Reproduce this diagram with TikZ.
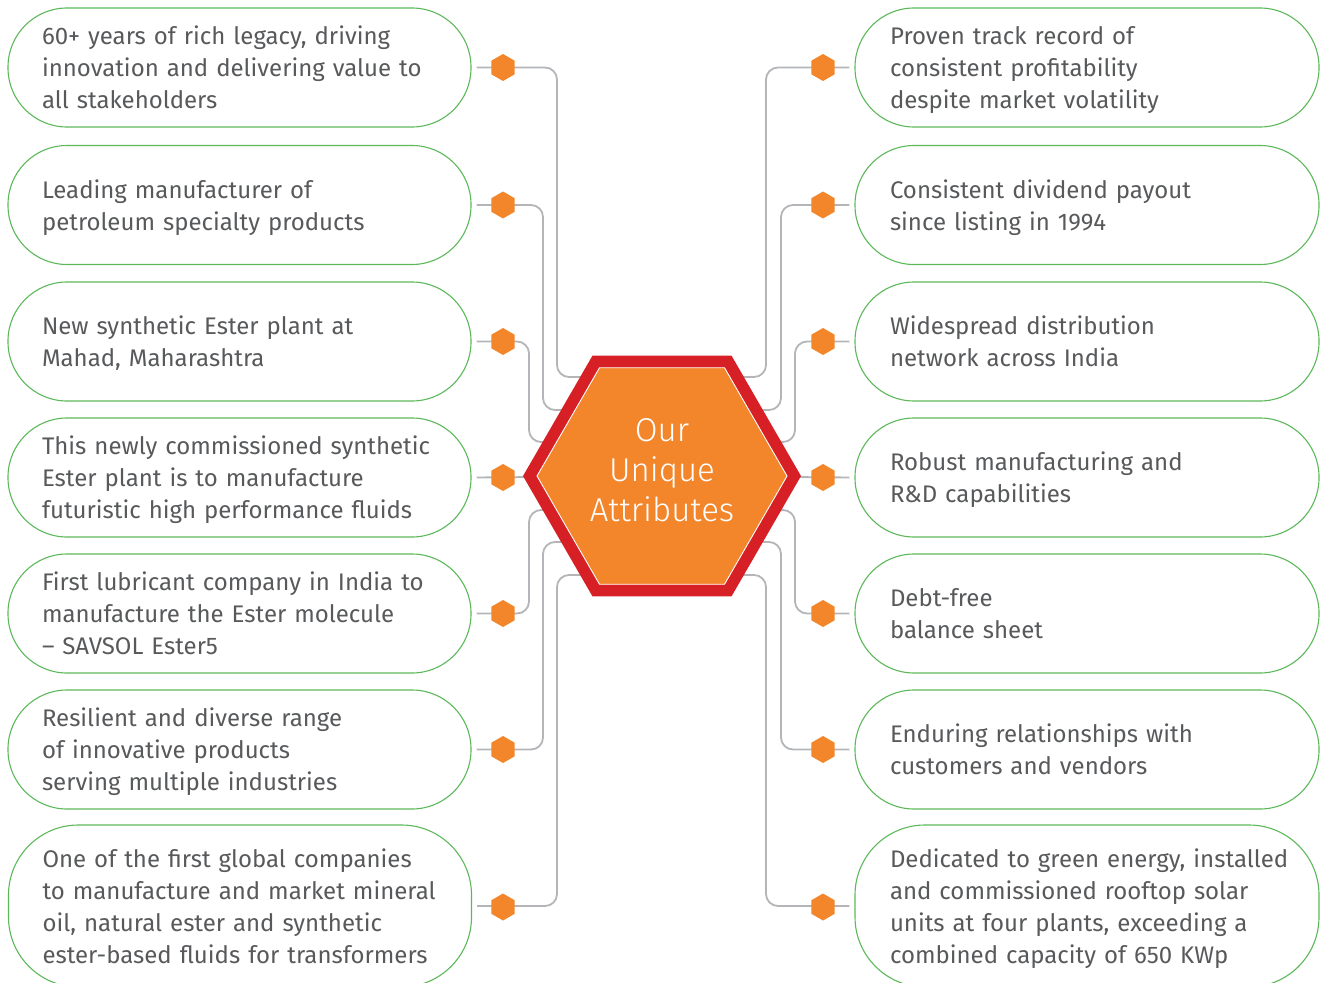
\documentclass[tikz,border=0pt]{standalone}
\usepackage{fontspec}
\setmainfont{Fira Sans}
\newfontfamily\titlefont{Fira Sans Light}
\usetikzlibrary{shapes.geometric}

\definecolor{hexorange}{HTML}{F3852A}
\definecolor{hexred}{HTML}{D71F26}
\definecolor{linkgray}{HTML}{B3B5B8}
\definecolor{boxgreen}{HTML}{5DB85A}
\definecolor{bodytext}{HTML}{58595B}

% one block of unbroken, left-aligned lines, set a little low in its box
\newcommand\attrlines[1]{\raisebox{-3pt}[\height][\depth]{\begin{tabular}{@{}l@{}}#1\end{tabular}}}

\tikzset{
  attr/.style={draw=boxgreen, line width=1.1pt, rounded corners=59pt,
    minimum height=119pt, text width=#1, align=left, text=bodytext,
    font=\fontsize{24}{32}\selectfont, inner ysep=0pt},
  lattr/.style={attr=395pt, minimum width=463pt, inner xsep=34pt},
  rattr/.style={attr=394pt, minimum width=464pt, inner xsep=35pt},
  dot/.style={regular polygon, regular polygon sides=6, rotate=30,
    minimum size=27pt, inner sep=0pt, fill=hexorange},
  link/.style={draw=linkgray, line width=1.8pt, rounded corners=12pt},
}

\begin{document}
\begin{tikzpicture}[x=1pt, y=-1pt]
\useasboundingbox (0,0) rectangle (1324,982);
\clip (0,0) rectangle (1324,982);

% attribute boxes, left column
\node[lattr] (l1) at (239.5,67.5) {\attrlines{60+ years of rich legacy, driving\\innovation and delivering value to\\all stakeholders}};
\node[lattr] (l2) at (239.5,205) {\attrlines{Leading manufacturer of\\petroleum specialty products}};
\node[lattr] (l3) at (239.5,341.5) {\attrlines{New synthetic Ester plant at\\Mahad, Maharashtra}};
\node[lattr] (l4) at (239.5,477.5) {\attrlines{This newly commissioned synthetic\\Ester plant is to manufacture\\futuristic high performance fluids}};
\node[lattr] (l5) at (239.5,613.5) {\attrlines{First lubricant company in India to\\manufacture the Ester molecule\\-- SAVSOL Ester5}};
\node[lattr] (l6) at (239.5,749.5) {\attrlines{Resilient and diverse range\\of innovative products\\serving multiple industries}};
\node[lattr, minimum height=162pt, rounded corners=70pt] (l7) at (240,906) {\attrlines{One of the first global companies\\to manufacture and market mineral\\oil, natural ester and synthetic\\ester-based fluids for transformers}};

% attribute boxes, right column
\node[rattr] (r1) at (1087,67.5) {\attrlines{Proven track record of\\consistent profitability\\despite market volatility}};
\node[rattr] (r2) at (1087,205) {\attrlines{Consistent dividend payout\\since listing in 1994}};
\node[rattr] (r3) at (1087,341.5) {\attrlines{Widespread distribution\\network across India}};
\node[rattr] (r4) at (1087,477.5) {\attrlines{Robust manufacturing and\\R\&D capabilities}};
\node[rattr] (r5) at (1087,613.5) {\attrlines{Debt-free\\balance sheet}};
\node[rattr] (r6) at (1087,749.5) {\attrlines{Enduring relationships with\\customers and vendors}};
\node[rattr, minimum height=162pt, rounded corners=70pt] (r7) at (1087,906) {\attrlines{Dedicated to green energy, installed\\and commissioned rooftop solar\\units at four plants, exceeding a\\combined capacity of 650 KWp}};

% bends of the links
\coordinate (jl1) at (557,377);
\coordinate (jl2) at (543,410);
\coordinate (jl3) at (529,442);
\coordinate (jl5) at (529,510);
\coordinate (jl6) at (543,542);
\coordinate (jl7) at (557,575);
\coordinate (jr1) at (766,377);
\coordinate (jr2) at (781,410);
\coordinate (jr3) at (795,442);
\coordinate (jr5) at (795,510);
\coordinate (jr6) at (781,542);
\coordinate (jr7) at (766,575);
\coordinate (hc) at (662,476);

% links from the boxes to the centre
\foreach \i in {1,2,3,5,6,7}{
  \draw[link, shorten <=5pt] (l\i.east) -| (jl\i) -- (jl\i -| hc);
  \draw[link, shorten <=5pt] (r\i.west) -| (jr\i) -- (jr\i -| hc);
}
\draw[link, shorten <=5pt] (l4.east) -- (hc);
\draw[link, shorten <=5pt] (r4.west) -- (hc);

% hexagonal markers on the links
\foreach \i/\y in {1/67.5,2/205,3/341.5,4/477.5,5/613.5,6/749.5,7/907}{
  \node[dot] (ml\i) at (503,\y) {};
  \node[dot] (mr\i) at (823,\y) {};
}

% central hexagon
\node[regular polygon, regular polygon sides=6, minimum size=278pt,
  inner sep=0pt, fill=hexred] (hub) at (hc) {};
\node[regular polygon, regular polygon sides=6, minimum size=250pt,
  inner sep=0pt, fill=hexorange, draw=white, line width=0.9pt] (hubin) at (hc) {};
\node[align=center, text=white, font=\titlefont\fontsize{33}{40}\selectfont]
  (hubtext) at (662,470) {Our\\Unique\\Attributes};
\end{tikzpicture}
\end{document}
